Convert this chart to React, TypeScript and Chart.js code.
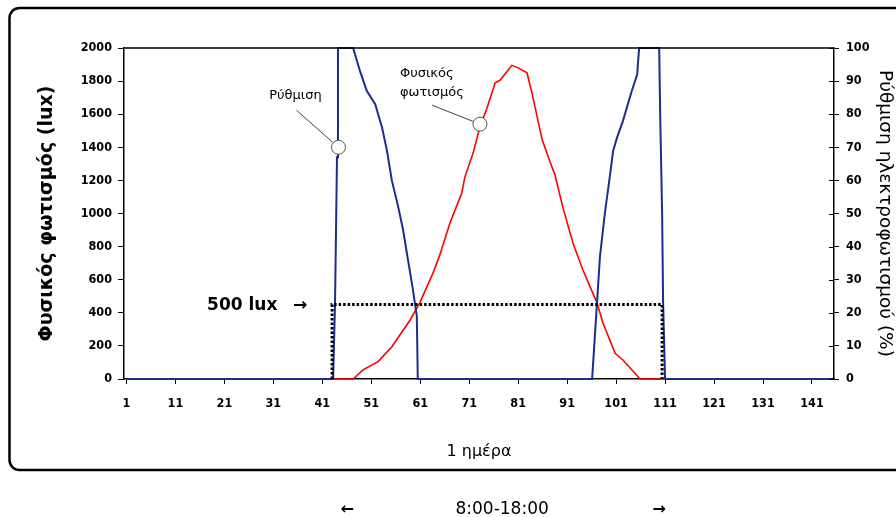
import React, { useEffect, useRef } from "react";
import { Chart, registerables } from "chart.js";

Chart.register(...registerables);

// ---- data ----
const xTickValues = [1, 11, 21, 31, 41, 51, 61, 71, 81, 91, 101, 111, 121, 131, 141];

// Natural light (lux), left axis
const naturalX = [1, 47.3, 49.3, 52.4, 55.2, 58.9, 60.9, 63.6, 65.0, 67.1, 69.5, 70.1, 71.8, 73.2, 74.6, 76.3, 77.3, 79.7, 81.0, 82.8, 83.8, 85.9, 87.9, 88.5, 90.1, 92.2, 94.2, 97.1, 98.3, 100.8, 102.4, 105.9, 145];
const naturalLux = [0, 0, 55, 105, 195, 355, 460, 640, 750, 945, 1125, 1220, 1365, 1525, 1635, 1790, 1805, 1895, 1880, 1850, 1730, 1445, 1280, 1235, 1040, 820, 660, 460, 340, 155, 115, 0, 0];

// Lighting control (%), right axis
const controlX = [1, 43.2, 43.6, 44.0, 44.2, 47.3, 48.7, 50.1, 51.8, 53.2, 54.2, 55.2, 56.5, 57.5, 58.5, 59.5, 59.9, 60.3, 60.5, 96.1, 97.1, 97.7, 98.7, 99.7, 100.4, 101.2, 102.4, 104.2, 105.3, 105.7, 109.8, 110.0, 110.4, 110.6, 111.0, 145];
const controlPct = [0, 0, 23, 67, 100, 100, 93, 87, 83, 76, 69, 60, 52, 45, 36, 27, 23, 19, 0, 0, 23, 37, 50, 61, 69, 73, 78, 87, 92, 100, 100, 80, 50, 23, 0, 0];

// 500 lux threshold box (8:00-18:00)
const thresholdX = [43, 43, 110.4, 110.4];
const thresholdLux = [0, 450, 450, 0];

// callout anchors [x, value]
const controlCalloutAt = [44.3, 70];
const naturalCalloutAt = [73.2, 1540];

const FONT = "'DejaVu Sans', Verdana, sans-serif";
const TICKFONT = "'DejaVu Sans Condensed', 'DejaVu Sans', sans-serif";
const BLUE = "#1f2b8e";
const RED = "#ff0000";

const framePlugin = {
  id: "frame",
  beforeDraw(chart: any) {
    const ctx = chart.ctx;
    ctx.save();
    ctx.fillStyle = "#fff";
    ctx.fillRect(0, 0, chart.width, chart.height);
    const x0 = 9.5, y0 = 8, x1 = 920, y1 = 470, r = 10;
    ctx.beginPath();
    ctx.moveTo(x0 + r, y0);
    ctx.lineTo(x1, y0);
    ctx.lineTo(x1, y1);
    ctx.lineTo(x0 + r, y1);
    ctx.arcTo(x0, y1, x0, y1 - r, r);
    ctx.lineTo(x0, y0 + r);
    ctx.arcTo(x0, y0, x0 + r, y0, r);
    ctx.closePath();
    ctx.lineWidth = 2.5;
    ctx.strokeStyle = "#000";
    ctx.stroke();
    ctx.restore();
  },
  afterDraw(chart: any) {
    const { ctx, chartArea, scales } = chart;
    ctx.save();
    ctx.strokeStyle = "#000";
    // top border of the plot
    ctx.lineWidth = 1.5;
    ctx.beginPath();
    ctx.moveTo(chartArea.left, chartArea.top);
    ctx.lineTo(chartArea.right, chartArea.top);
    ctx.stroke();
    // inner half of right-axis tick marks
    ctx.lineWidth = 1;
    scales.y1.ticks.forEach((t: any) => {
      const py = Math.round(scales.y1.getPixelForValue(t.value)) + 0.5;
      ctx.beginPath();
      ctx.moveTo(chartArea.right - 5, py);
      ctx.lineTo(chartArea.right, py);
      ctx.stroke();
    });

    // bottom text: ← 8:00-18:00 →
    const xl = scales.x.getPixelForValue(thresholdX[0]);
    const xr = scales.x.getPixelForValue(thresholdX[2]);
    ctx.fillStyle = "#000";
    ctx.textBaseline = "middle";
    ctx.textAlign = "center";
    ctx.font = `17px ${FONT}`;
    ctx.fillText("8:00-18:00", (xl + xr) / 2 + 5, 510);
    ctx.font = `bold 16px ${FONT}`;
    ctx.fillText("←", xl + 15, 510);
    ctx.fillText("→", xr - 3, 510);
    ctx.restore();
  },
};

const calloutPlugin = {
  id: "callouts",
  afterDatasetsDraw(chart: any) {
    const { ctx, scales } = chart;
    const sx = scales.x, sy = scales.y, sy1 = scales.y1;
    ctx.save();
    const drawCallout = (cx: number, cy: number, lx: number, ly: number) => {
      const r = 7;
      const dx = lx - cx, dy = ly - cy;
      const d = Math.hypot(dx, dy);
      ctx.strokeStyle = "#444";
      ctx.lineWidth = 1;
      ctx.beginPath();
      ctx.moveTo(lx, ly);
      ctx.lineTo(cx + (dx / d) * r, cy + (dy / d) * r);
      ctx.stroke();
      ctx.beginPath();
      ctx.arc(cx, cy, r, 0, Math.PI * 2);
      ctx.fillStyle = "#fff";
      ctx.fill();
      ctx.strokeStyle = "#555";
      ctx.stroke();
    };
    // Ρύθμιση
    const c1x = sx.getPixelForValue(controlCalloutAt[0]);
    const c1y = sy1.getPixelForValue(controlCalloutAt[1]);
    drawCallout(c1x, c1y, c1x - 42, c1y - 37);
    // Φυσικός φωτισμός
    const c2x = sx.getPixelForValue(naturalCalloutAt[0]);
    const c2y = sy.getPixelForValue(naturalCalloutAt[1]);
    drawCallout(c2x, c2y, c2x - 48, c2y - 19);

    ctx.fillStyle = "#000";
    ctx.textBaseline = "middle";
    ctx.font = `13px ${FONT}`;
    ctx.textAlign = "center";
    ctx.fillText("Ρύθμιση", c1x - 43, c1y - 52);
    ctx.textAlign = "left";
    ctx.fillText("Φυσικός", c2x - 80, c2y - 51);
    ctx.fillText("φωτισμός", c2x - 80, c2y - 32);

    // 500 lux →
    const tx = sx.getPixelForValue(thresholdX[1]);
    const ty = sy.getPixelForValue(thresholdLux[1]);
    ctx.font = `bold 17px ${FONT}`;
    ctx.textAlign = "left";
    ctx.fillText("500 lux", tx - 125, ty + 1);
    ctx.fillText("→", tx - 39, ty + 1);
    ctx.restore();
  },
};

export default function App() {
  const ref = useRef<HTMLCanvasElement | null>(null);
  useEffect(() => {
    if (!ref.current) return;
    const tickFont = { family: TICKFONT, size: 12.5, weight: "bold" as const };
    const plain = (v: any) => String(v);
    const chart = new Chart(ref.current, {
      type: "line",
      data: {
        datasets: [
          {
            label: "500 lux",
            data: thresholdX.map((x, i) => ({ x, y: thresholdLux[i] })),
            yAxisID: "y",
            borderColor: "#000",
            borderWidth: 3,
            borderDash: [2.5, 2],
            pointRadius: 0,
            fill: false,
            tension: 0,
            clip: false as any,
          },
          {
            label: "Ρύθμιση",
            data: controlX.map((x, i) => ({ x, y: controlPct[i] })),
            yAxisID: "y1",
            borderColor: BLUE,
            borderWidth: 2,
            pointRadius: 0,
            fill: false,
            tension: 0,
            clip: false as any,
          },
          {
            label: "Φυσικός φωτισμός",
            data: naturalX.map((x, i) => ({ x, y: naturalLux[i] })),
            yAxisID: "y",
            borderColor: RED,
            borderWidth: 1.6,
            pointRadius: 0,
            fill: false,
            tension: 0,
            clip: false as any,
          },
        ],
      },
      options: {
        animation: false,
        responsive: false,
        maintainAspectRatio: false,
        events: [],
        layout: { padding: { top: 48, left: 0, right: 0, bottom: 0 } },
        plugins: { legend: { display: false }, tooltip: { enabled: false } },
        scales: {
          x: {
            type: "linear",
            min: 0.5,
            max: 145.5,
            afterBuildTicks: (scale: any) => {
              scale.ticks = xTickValues.map((v) => ({ value: v }));
            },
            afterFit: (scale: any) => {
              scale.height = 138;
            },
            ticks: {
              autoSkip: false,
              maxRotation: 0,
              color: "#000",
              font: tickFont,
              padding: 12,
              callback: plain,
            },
            grid: { drawOnChartArea: false, drawTicks: true, tickLength: 5, tickColor: "#000" },
            border: { color: "#000", width: 1.5 },
            title: {
              display: true,
              text: "1 ημέρα",
              color: "#000",
              font: { family: FONT, size: 16 },
              padding: { top: 0, bottom: 56 },
            },
          },
          y: {
            position: "left",
            min: 0,
            max: 2000,
            afterFit: (scale: any) => {
              scale.width = 124;
            },
            ticks: { stepSize: 200, color: "#000", font: tickFont, padding: 6, callback: plain },
            grid: { drawOnChartArea: false, drawTicks: true, tickLength: 6, tickColor: "#000" },
            border: { color: "#000", width: 1.5 },
            title: {
              display: true,
              text: "Φυσικός φωτισμός (lux)",
              color: "#000",
              font: { family: FONT, size: 19, weight: "bold" },
              padding: { top: 36, bottom: 0 },
            },
          },
          y1: {
            position: "right",
            min: 0,
            max: 100,
            afterFit: (scale: any) => {
              scale.width = 62;
            },
            ticks: { stepSize: 10, color: "#000", font: tickFont, padding: 7, callback: plain },
            grid: { drawOnChartArea: false, drawTicks: true, tickLength: 5, tickColor: "#000" },
            border: { color: "#000", width: 1.5 },
            title: {
              display: true,
              text: "Ρύθμιση ηλεκτροφωτισμού (%)",
              color: "#000",
              font: { family: FONT, size: 18.5 },
              padding: { top: 0, bottom: 0 },
            },
          },
        },
      },
      plugins: [framePlugin, calloutPlugin],
    } as any);
    return () => chart.destroy();
  }, []);
  return (
    <div style={{ position: "fixed", left: 0, top: 0, width: 896, height: 517, overflow: "hidden", background: "#fff" }}>
      <canvas ref={ref} width={896} height={517} style={{ width: 896, height: 517, display: "block" }} />
    </div>
  );
}
